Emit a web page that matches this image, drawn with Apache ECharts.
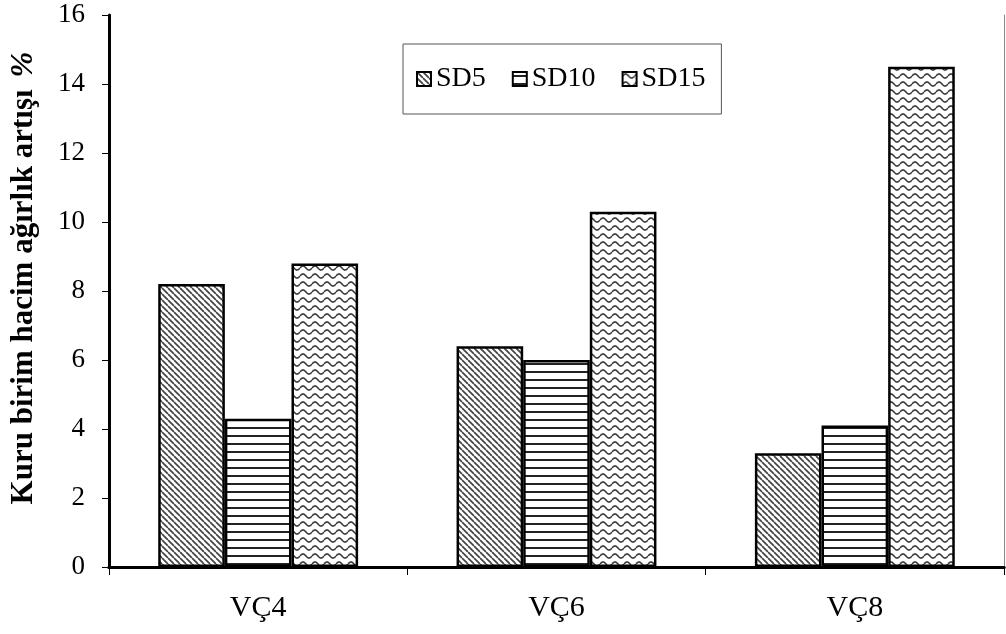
<!DOCTYPE html>
<html>
<head>
<meta charset="utf-8">
<script src="https://cdn.jsdelivr.net/npm/echarts@6/dist/echarts.min.js"></script>
<style>html,body{margin:0;padding:0;background:#fff}#c{width:1006px;height:634px}</style>
</head>
<body>
<div id="c"></div>
<script>
const categories = ['VÇ4', 'VÇ6', 'VÇ8'];
const seriesNames = ['SD5', 'SD10', 'SD15'];
const sd5 = [8.2, 6.4, 3.3];
const sd10 = [4.3, 6.0, 4.1];
const sd15 = [8.8, 10.3, 14.5];
const yTicks = [0, 2, 4, 6, 8, 10, 12, 14, 16];
const yAxisTitleMain = 'Kuru birim hacim ağırlık artışı';
const yAxisTitleUnit = '%';

function tile(w, h, draw) {
  const c = document.createElement('canvas');
  c.width = w; c.height = h;
  const ctx = c.getContext('2d');
  ctx.fillStyle = '#fff';
  ctx.fillRect(0, 0, w, h);
  draw(ctx, w, h);
  return { image: c, repeat: 'repeat' };
}
const diag = tile(6, 6, (ctx, w, h) => {
  ctx.strokeStyle = '#444'; ctx.lineWidth = 1.7;
  for (let k = -1; k <= 1; k++) {
    ctx.beginPath(); ctx.moveTo(k * w, 0); ctx.lineTo(k * w + w, h); ctx.stroke();
  }
});
const horiz = tile(8, 8, (ctx, w, h) => {
  ctx.fillStyle = '#222';
  ctx.fillRect(0, 3, w, 2);
});
const wave = tile(12, 8, (ctx, w, h) => {
  ctx.strokeStyle = '#333'; ctx.lineWidth = 1.6;
  ctx.beginPath();
  for (let x = 0; x <= w; x += 0.5) {
    const y = 4 - 2 * Math.sin((x / w) * Math.PI * 2);
    if (x === 0) ctx.moveTo(x, y); else ctx.lineTo(x, y);
  }
  ctx.stroke();
});
const fills = [diag, horiz, wave];
const dataSets = [sd5, sd10, sd15];

const FONT = "'Liberation Serif', 'Times New Roman', serif";
const chart = echarts.init(document.getElementById('c'), null, { renderer: 'canvas' });
chart.setOption({
  animation: false,
  backgroundColor: '#fff',
  textStyle: { fontFamily: FONT, color: '#000' },
  grid: { left: 108, top: 15, right: 2, bottom: 67 },
  legend: {
    left: 403, top: 44,
    padding: [21, 16, 21, 13],
    itemGap: 26,
    itemWidth: 14, itemHeight: 14,
    icon: 'rect',
    borderColor: '#555', borderWidth: 1,
    textStyle: { fontFamily: FONT, fontSize: 28, color: '#000' },
    data: seriesNames
  },
  xAxis: [{
    type: 'category',
    data: categories,
    position: 'bottom',
    axisLine: { lineStyle: { color: '#000', width: 3 } },
    axisTick: { show: true, length: 8, lineStyle: { color: '#000', width: 1 } },
    axisLabel: { fontFamily: FONT, fontSize: 30, color: '#000', margin: 26 },
    splitLine: { show: false }
  }, {
    type: 'category',
    data: categories,
    position: 'top',
    axisLine: { lineStyle: { color: '#000', width: 3 } },
    axisTick: { show: false },
    axisLabel: { show: false }
  }],
  yAxis: [{
    type: 'value',
    min: yTicks[0], max: yTicks[yTicks.length - 1], interval: 2,
    position: 'left',
    name: '{a|' + yAxisTitleMain + '}{b|' + yAxisTitleUnit + '}',
    nameLocation: 'middle',
    nameGap: 70,
    nameRotate: 90,
    nameTextStyle: {
      fontFamily: FONT, fontSize: 31, fontWeight: 'bold', color: '#000',
      padding: [0, 0, 0, 26],
      rich: {
        a: { fontFamily: FONT, fontSize: 31, fontWeight: 'bold', color: '#000' },
        b: { fontFamily: FONT, fontSize: 31, fontWeight: 'bold', fontStyle: 'italic', color: '#000', padding: [0, 0, 0, 12] }
      }
    },
    axisLine: { show: true, lineStyle: { color: '#000', width: 3 } },
    axisTick: { show: true, length: 7, lineStyle: { color: '#000', width: 1 } },
    axisLabel: { fontFamily: FONT, fontSize: 27, color: '#000', margin: 24 },
    splitLine: { show: false }
  }, {
    type: 'value',
    min: yTicks[0], max: yTicks[yTicks.length - 1], interval: 2,
    position: 'right',
    axisLine: { show: true, lineStyle: { color: '#888', width: 1 } },
    axisTick: { show: false },
    axisLabel: { show: false },
    splitLine: { show: false }
  }],
  series: seriesNames.map((n, i) => ({
    name: n,
    type: 'bar',
    data: dataSets[i],
    barGap: '0%',
    barCategoryGap: '33%',
    itemStyle: { color: fills[i], borderColor: '#000', borderWidth: 2.5 }
  }))
});
</script>
</body>
</html>
